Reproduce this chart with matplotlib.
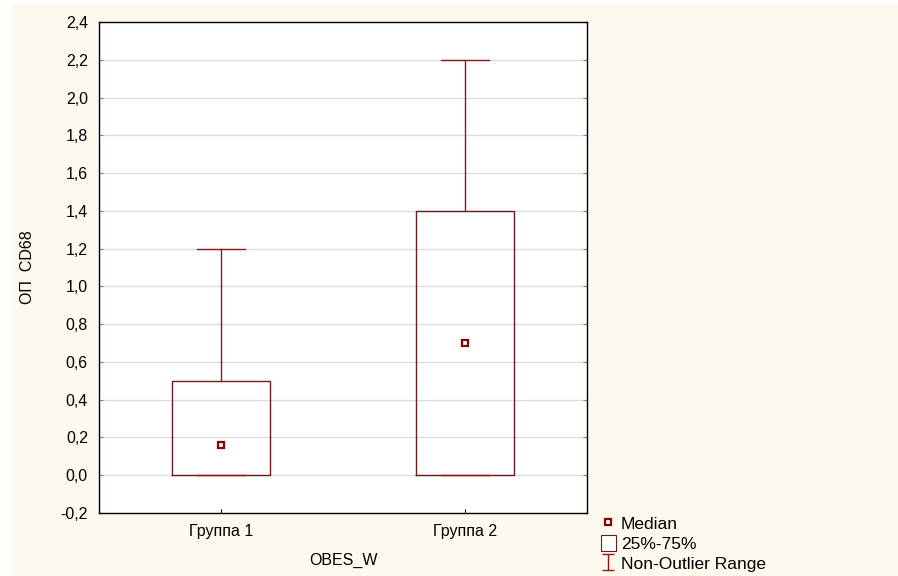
import matplotlib
matplotlib.use('Agg')
import matplotlib.pyplot as plt
from matplotlib.lines import Line2D
from matplotlib.patches import Patch, Rectangle
from matplotlib.path import Path
from matplotlib.ticker import FuncFormatter, MultipleLocator

plt.rcParams['font.family'] = ['Liberation Sans', 'DejaVu Sans']

# box statistics per group
groups = ['Группа 1', 'Группа 2']
medians = [0.16, 0.70]
q1 = [0.0, 0.0]
q3 = [0.5, 1.4]
whis_lo = [0.0, 0.0]
whis_hi = [1.2, 2.2]

box_color = '#6a1e1e'
whisker_color = '#9a1414'
bg = '#fef9ee'
fs = 11.5

fig = plt.figure(figsize=(8.98, 5.76), dpi=100, facecolor='white')
fig.patches.append(Rectangle((12 / 898, 0), 1, 1 - 4 / 576, transform=fig.transFigure,
                             facecolor=bg, edgecolor='none', zorder=-10))
ax = fig.add_axes([99 / 898, 1 - 513 / 576, 488 / 898, 491 / 576])
ax.set_facecolor('white')

stats = []
for i in range(len(groups)):
    stats.append({'med': medians[i], 'q1': q1[i], 'q3': q3[i],
                  'whislo': whis_lo[i], 'whishi': whis_hi[i], 'fliers': []})

pos = list(range(len(groups)))
ax.bxp(stats, positions=pos, widths=0.4, showfliers=False,
       boxprops=dict(color=box_color, linewidth=1.0),
       whiskerprops=dict(color=whisker_color, linewidth=1.0),
       capprops=dict(color=whisker_color, linewidth=1.0),
       medianprops=dict(linestyle='none'), capwidths=0.2)
ax.plot(pos, medians, linestyle='none', marker='s', markersize=5,
        markerfacecolor='white', markeredgecolor='#8b0000', markeredgewidth=1.6, zorder=5)

ax.set_xlim(-0.5, 1.5)
ax.set_ylim(-0.2, 2.4)
ax.yaxis.set_major_locator(MultipleLocator(0.2))
ax.yaxis.set_major_formatter(FuncFormatter(lambda v, p: '{:.1f}'.format(v).replace('.', ',')))
ax.set_xticks(pos)
ax.set_xticklabels(groups)
ax.grid(axis='y', color='#dcdcdc', linewidth=1.0)
ax.set_axisbelow(True)
ax.tick_params(axis='both', labelsize=fs, colors='black', direction='in', length=3)
ax.tick_params(axis='x', pad=8)
ax.tick_params(axis='y', right=True, color='#888888', pad=8)
for s in ax.spines.values():
    s.set_color('black')
    s.set_linewidth(1.0)

ax.set_ylabel('ОП  CD68', fontsize=fs)
ax.set_xlabel('OBES_W', fontsize=fs)
ax.yaxis.set_label_coords(-0.131, 0.5)
ax.xaxis.set_label_coords(0.5, -0.082)

# legend symbols
ibar = Path([(-0.75, -1), (0.75, -1), (0, -1), (0, 1), (-0.75, 1), (0.75, 1)],
            [Path.MOVETO, Path.LINETO, Path.MOVETO, Path.LINETO, Path.MOVETO, Path.LINETO])
handles = [
    Line2D([], [], linestyle='none', marker='s', markersize=5, markerfacecolor='white',
           markeredgecolor='#8b0000', markeredgewidth=1.6),
    Patch(facecolor='white', edgecolor=box_color, linewidth=0.8),
    Line2D([], [], linestyle='none', marker=ibar, markersize=12,
           markeredgecolor=whisker_color, markeredgewidth=1.0),
]
fig.legend(handles, ['Median', '25%-75%', 'Non-Outlier Range'],
           loc='upper left', bbox_to_anchor=(601 / 898, 1 - 515 / 576),
           frameon=False, fontsize=12.5, handlelength=0.85, handleheight=1.0,
           handletextpad=0.3, labelspacing=0.2, borderpad=0, borderaxespad=0)

fig.savefig('out.png', dpi=100, facecolor=fig.get_facecolor())
